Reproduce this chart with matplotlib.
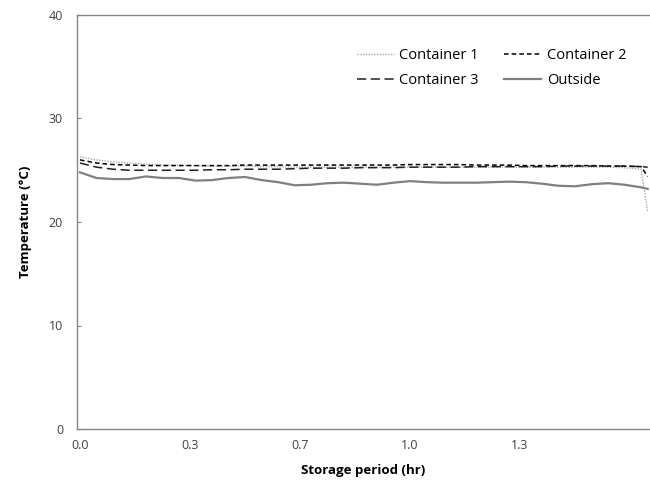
import matplotlib
matplotlib.use('Agg')
import matplotlib.pyplot as plt
import numpy as np

# logger readings, one every 3 min (0.05 hr) plus the last reading
hours = [0.00, 0.05, 0.10, 0.15, 0.20, 0.25, 0.30, 0.35, 0.40, 0.45,
         0.50, 0.55, 0.60, 0.65, 0.70, 0.75, 0.80, 0.85, 0.90, 0.95,
         1.00, 1.05, 1.10, 1.15, 1.20, 1.25, 1.30, 1.35, 1.40, 1.45,
         1.50, 1.55, 1.60, 1.65, 1.70, 1.72]

container1 = [26.3, 26.0, 25.8, 25.7, 25.6, 25.5, 25.5, 25.45, 25.4, 25.4,
              25.4, 25.35, 25.35, 25.3, 25.3, 25.3, 25.3, 25.3, 25.3, 25.3,
              25.3, 25.3, 25.3, 25.3, 25.3, 25.3, 25.3, 25.3, 25.3, 25.3,
              25.3, 25.3, 25.3, 25.25, 25.1, 21.0]

container2 = [26.0, 25.7, 25.55, 25.5, 25.45, 25.45, 25.45, 25.45, 25.45, 25.45,
              25.5, 25.5, 25.5, 25.5, 25.5, 25.5, 25.5, 25.5, 25.5, 25.5,
              25.55, 25.55, 25.55, 25.55, 25.5, 25.5, 25.5, 25.45, 25.45, 25.45,
              25.45, 25.45, 25.4, 25.4, 25.35, 24.4]

container3 = [25.7, 25.3, 25.1, 25.0, 25.0, 25.0, 25.0, 25.0, 25.05, 25.05,
              25.1, 25.1, 25.1, 25.15, 25.2, 25.2, 25.2, 25.25, 25.25, 25.25,
              25.3, 25.3, 25.3, 25.3, 25.35, 25.35, 25.35, 25.35, 25.35, 25.4,
              25.4, 25.4, 25.4, 25.4, 25.35, 25.3]

outside = [24.8, 24.25, 24.15, 24.15, 24.4, 24.25, 24.25, 24.0, 24.05, 24.25,
           24.35, 24.05, 23.85, 23.55, 23.6, 23.75, 23.8, 23.7, 23.6, 23.8,
           23.95, 23.85, 23.8, 23.8, 23.8, 23.85, 23.9, 23.85, 23.7, 23.5,
           23.45, 23.65, 23.75, 23.6, 23.35, 23.2]

xticks = [0, 1/3, 2/3, 1, 4/3]
yticks = [0, 10, 20, 30, 40]

plt.rcParams['font.family'] = ['Open Sans', 'DejaVu Sans']
grey = '#868686'

fig = plt.figure(figsize=[6.5, 4.82], dpi=100, facecolor='white')
ax = fig.add_axes([77/650, 1 - 429/482, 1 - 77/650, (429 - 15)/482])

l1, = ax.plot(hours, container1, color='#a6a6a6', lw=1.0, ls=(0, (1, 1)), label='Container 1')
l2, = ax.plot(hours, container2, color='black', lw=1.1, ls=(0, (3, 2)), label='Container 2')
l3, = ax.plot(hours, container3, color='#202020', lw=1.1, ls=(0, (6, 3)), label='Container 3')
l4, = ax.plot(hours, outside, color='#7f7f7f', lw=1.6, ls='-', label='Outside')

ax.set_xlim(-0.009, 1.727)
ax.set_ylim(0, 40)
ax.set_xticks(xticks)
ax.set_xticklabels([f'{v:.1f}' for v in xticks])
ax.set_yticks(yticks)

ax.tick_params(axis='y', direction='in', length=3, color=grey, labelsize=9,
               labelcolor='#404040', pad=10)
ax.tick_params(axis='x', length=0, labelsize=9, labelcolor='#404040', pad=7)

for side in ['left', 'bottom', 'top']:
    ax.spines[side].set_color(grey)
    ax.spines[side].set_linewidth(1.0)
ax.spines['right'].set_visible(False)

ax.set_xlabel('Storage period (hr)', fontsize=9.5, fontweight='bold', labelpad=9)
ax.set_ylabel('Temperature (°C)', fontsize=9.5, fontweight='bold', labelpad=12)

# legend fills column-wise, so order handles to read across rows
ax.legend([l1, l3, l2, l4], ['Container 1', 'Container 3', 'Container 2', 'Outside'],
          ncol=2, frameon=False, fontsize=10.5, handlelength=2.5,
          handletextpad=0.4, columnspacing=1.75, labelspacing=0.65,
          loc='upper left', bbox_to_anchor=(344/650, 1 - 35/482),
          bbox_transform=fig.transFigure)

fig.savefig('out.png', dpi=100, facecolor='white')
